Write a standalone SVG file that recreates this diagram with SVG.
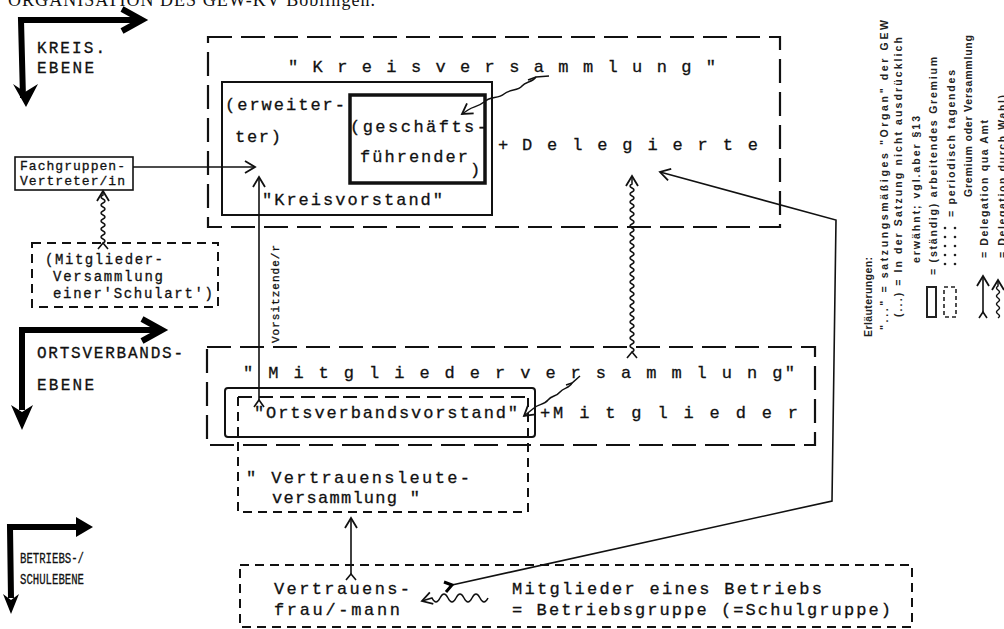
<svg xmlns="http://www.w3.org/2000/svg" width="1004" height="629" viewBox="0 0 1004 629">
<defs>
<style>
.tw{font-family:"Liberation Mono","DejaVu Sans Mono",monospace;font-size:17px;fill:#111;stroke:#111;stroke-width:0.3}
.m15{font-size:15px}
.m14{font-size:14px}
.m13{font-size:13px}
.m11{font-size:11px}
.lv{font-family:"Liberation Mono","DejaVu Sans Mono",monospace;font-size:16px;fill:#111;stroke:#111;stroke-width:0.3}
.lg{font-family:"Liberation Sans","DejaVu Sans",sans-serif;font-size:10.5px;font-weight:bold;fill:#222}
.box{fill:none;stroke:#111;stroke-width:2}
.thick{fill:none;stroke:#111;stroke-width:3.5}
.dl{fill:none;stroke:#111;stroke-width:2.2;stroke-dasharray:24 9}
.dm{fill:none;stroke:#111;stroke-width:2.2;stroke-dasharray:14 7}
.ds{fill:none;stroke:#111;stroke-width:2;stroke-dasharray:9 6}
.ln{fill:none;stroke:#111;stroke-width:1.6}
.wv{fill:none;stroke:#111;stroke-width:1.5}
.big{fill:none;stroke:#000;stroke-width:6;stroke-linejoin:miter}
</style>
<marker id="ah" markerUnits="userSpaceOnUse" markerWidth="14" markerHeight="14" viewBox="0 0 14 14" refX="12" refY="7" orient="auto"><path d="M2,1 L12,7 L2,13" fill="none" stroke="#111" stroke-width="1.8"/></marker>
</defs>
<rect width="1004" height="629" fill="#fff"/>

<text x="8" y="6" font-family="Liberation Serif, serif" font-size="18" fill="#111" textLength="367">ORGANISATION DES GEW-KV Böblingen.</text>

<g id="levels">
<path class="big" d="M23,98 L21,20 L140,20"/>
<polyline class="big" points="122,9 142,20 122,31"/>
<polygon points="13,84 25,92 38,84 26,107" fill="#000"/>
<text class="lv" x="37" y="53" textLength="68">KREIS.</text>
<text class="lv" x="37" y="73" textLength="57">EBENE</text>

<path class="big" d="M22,410 L22,330 L160,330"/>
<polyline class="big" points="142,319 162,330 142,341"/>
<polygon points="11,405 22,412 33,405 22,430" fill="#000"/>
<text class="lv" x="37" y="358" textLength="146">ORTSVERBANDS-</text>
<text class="lv" x="37" y="390" textLength="57">EBENE</text>

<path class="big" d="M11,598 L10,527 L80,527"/>
<polygon points="76,517 93,527 76,537" fill="#000"/>
<polygon points="3,594 11,600 19,594 11,614" fill="#000"/>
<text class="tw m15" x="20" y="563" textLength="64" lengthAdjust="spacingAndGlyphs">BETRIEBS-/</text>
<text class="tw m15" x="20" y="584" textLength="64" lengthAdjust="spacingAndGlyphs">SCHULEBENE</text>
</g>

<g id="kreisversammlung">
<rect class="dl" x="208" y="37" width="572" height="190"/>
<text class="tw" x="288" y="72" textLength="428">" K r e i s v e r s a m m l u n g "</text>
<text class="tw" x="498" y="150">+</text>
<text class="tw" x="522" y="150" textLength="236">D e l e g i e r t e</text>
</g>

<g id="kreisvorstand">
<rect class="box" x="222" y="82" width="270" height="133"/>
<text class="tw" x="225" y="110" textLength="120">(erweiter-</text>
<text class="tw" x="235" y="142" textLength="46">ter)</text>
<text class="tw" x="262" y="205" textLength="181">"Kreisvorstand"</text>
</g>

<g id="geschaeftsfuehrender">
<rect class="thick" x="350" y="95" width="135" height="88"/>
<text class="tw" x="350" y="132" textLength="137">(geschäfts-</text>
<text class="tw" x="360" y="162" textLength="108">führender</text>
<text class="tw" x="470" y="175">)</text>
</g>

<g id="fachgruppen">
<rect class="ln" x="15" y="157" width="118" height="33"/>
<text class="tw m13" x="20" y="170" textLength="105">Fachgruppen-</text>
<text class="tw m13" x="20" y="185" textLength="105">Vertreter/in</text>
</g>

<g id="schulart">
<rect class="ds" x="32" y="243" width="186" height="64"/>
<text class="tw m14" x="45" y="264" textLength="118">(Mitglieder-</text>
<text class="tw m14" x="53" y="281" textLength="110">Versammlung</text>
<text class="tw m14" x="53" y="298" textLength="160">einer'Schulart')</text>
</g>

<g id="mitgliederversammlung">
<rect class="dl" x="207" y="347" width="608" height="98"/>
<text class="tw" x="243" y="378" textLength="552">" M i t g l i e d e r v e r s a m m l u n g"</text>
<text class="tw" x="540" y="418" textLength="258">+M i t g l i e d e r</text>
</g>

<g id="ortsverbandsvorstand">
<rect class="box" x="225" y="388" width="310" height="49" rx="3"/>
<text class="tw" x="254" y="418" textLength="264">"Ortsverbandsvorstand"</text>
</g>

<g id="vertrauensleute">
<path class="dm" d="M238,397 L528,397"/>
<path class="ds" d="M238,397 L238,512 L528,512 L528,397"/>
<text class="tw" x="246" y="483" textLength="224">" Vertrauensleute-</text>
<text class="tw" x="272" y="503" textLength="148">versammlung "</text>
</g>

<g id="betriebsgruppe">
<rect class="ds" x="240" y="565" width="672" height="62"/>
<text class="tw" x="274" y="594" textLength="136">Vertrauens-</text>
<text class="tw" x="274" y="615" textLength="126">frau/-mann</text>
<text class="tw" x="512" y="594" textLength="310">Mitglieder eines Betriebs</text>
<text class="tw" x="512" y="615" textLength="379">= Betriebsgruppe (=Schulgruppe)</text>
</g>

<g id="connectors">
<path class="ln" d="M133,167 L255,167" marker-end="url(#ah)"/>
<path class="ln" d="M259,400 L259,177" marker-end="url(#ah)"/>
<polyline class="ln" points="254,407 259,400 264,407"/>
<text class="tw m11" transform="translate(279,343) rotate(-90)" textLength="98">Vorsitzende/r</text>

<path class="wv" d="M103,243 q4,-2 0,-4 q-4,-2 0,-4 q4,-2 0,-4 q-4,-2 0,-4 q4,-2 0,-4 q-4,-2 0,-4 q4,-2 0,-4 q-4,-2 0,-4 q4,-2 0,-4 q-4,-2 0,-4 q4,-2 0,-4 q-4,-2 0,-4 l0,-4" marker-end="url(#ah)"/>
<polyline class="ln" points="98,249 103,243 108,249"/>

<path class="wv" d="M536,77 c-4,6 -10,4 -14,9 c-4,5 -12,3 -18,8 c-6,5 -14,2 -20,8 c-6,5 -10,4 -16,8 l-6,4" marker-end="url(#ah)"/>
<path class="wv" d="M528,80 L536,77 L549,76"/>

<path class="wv" d="M632,352 q4,-2 0,-4 q-4,-2 0,-4 q4,-2 0,-4 q-4,-2 0,-4 q4,-2 0,-4 q-4,-2 0,-4 q4,-2 0,-4 q-4,-2 0,-4 q4,-2 0,-4 q-4,-2 0,-4 q4,-2 0,-4 q-4,-2 0,-4 q4,-2 0,-4 q-4,-2 0,-4 q4,-2 0,-4 q-4,-2 0,-4 q4,-2 0,-4 q-4,-2 0,-4 q4,-2 0,-4 q-4,-2 0,-4 q4,-2 0,-4 q-4,-2 0,-4 q4,-2 0,-4 q-4,-2 0,-4 q4,-2 0,-4 q-4,-2 0,-4 q4,-2 0,-4 q-4,-2 0,-4 q4,-2 0,-4 q-4,-2 0,-4 q4,-2 0,-4 q-4,-2 0,-4 q4,-2 0,-4 q-4,-2 0,-4 q4,-2 0,-4 q-4,-2 0,-4 q4,-2 0,-4 q-4,-2 0,-4 q4,-2 0,-4 q-4,-2 0,-4 q4,-2 0,-4 q-4,-2 0,-4 l0,-8" marker-end="url(#ah)"/>
<polyline class="ln" points="627,358 632,352 637,358"/>

<path class="wv" d="M572,383 c-3,6 -8,4 -12,9 c-4,5 -8,3 -12,8 c-4,5 -10,4 -14,8 l-10,8" marker-end="url(#ah)"/>
<path class="wv" d="M566,385 L572,383 L580,376"/>

<path class="ln" d="M452,585 L832,501 L836,220 L660,172" marker-end="url(#ah)" stroke-width="2"/>
<polyline fill="none" stroke="#000" stroke-width="3" points="444,582 452,585 446,592"/>

<path class="ln" d="M351,574 L351,518" marker-end="url(#ah)"/>
<polyline class="ln" points="346,580 351,574 356,580"/>

<path class="wv" d="M488,598 q-4,8 -8,0 q-4,-8 -8,0 q-4,8 -8,0 q-4,-8 -8,0 q-4,8 -8,0 q-4,-8 -8,0 q-4,8 -8,0 l-10,3" marker-end="url(#ah)"/>
</g>

<g id="legend">
<text class="lg" transform="translate(872,337) rotate(-90)" textLength="80">Erläuterungen:</text>
<text class="lg" transform="translate(888,330) rotate(-90)" textLength="310">"..." = satzungsmäßiges "Organ" der GEW</text>
<text class="lg" transform="translate(902,317) rotate(-90)" textLength="280">(...) = In der Satzung nicht ausdrücklich</text>
<text class="lg" transform="translate(920,263) rotate(-90)" textLength="147">erwähnt; vgl.aber §13</text>
<rect x="927" y="287" width="9" height="30" fill="none" stroke="#222" stroke-width="2"/>
<text class="lg" transform="translate(937,275) rotate(-90)" textLength="218">= (ständig) arbeitendes Gremium</text>
<rect x="944" y="287" width="12" height="30" fill="none" stroke="#222" stroke-width="1.6" stroke-dasharray="4 3"/>
<g fill="#222">
<circle cx="945" cy="228" r="1.3"/><circle cx="945" cy="237" r="1.3"/><circle cx="945" cy="246" r="1.3"/><circle cx="945" cy="255" r="1.3"/><circle cx="945" cy="264" r="1.3"/>
<circle cx="955" cy="228" r="1.3"/><circle cx="955" cy="237" r="1.3"/><circle cx="955" cy="246" r="1.3"/><circle cx="955" cy="255" r="1.3"/><circle cx="955" cy="264" r="1.3"/>
</g>
<text class="lg" transform="translate(955,217) rotate(-90)" textLength="147">= periodisch tagendes</text>
<text class="lg" transform="translate(972,197) rotate(-90)" textLength="162">Gremium oder Versammlung</text>
<path class="ln" d="M983,312 L983,276" marker-end="url(#ah)"/>
<polyline class="ln" points="979,318 983,312 987,318"/>
<text class="lg" transform="translate(988,258) rotate(-90)" textLength="138">= Delegation qua Amt</text>
<path class="wv" d="M998,318 q3,-2 0,-4 q-3,-2 0,-4 q3,-2 0,-4 q-3,-2 0,-4 q3,-2 0,-4 q-3,-2 0,-4 q3,-2 0,-4 q-3,-2 0,-4 l0,-6" marker-end="url(#ah)"/>
<text class="lg" transform="translate(1006,258) rotate(-90)" textLength="163">= Delegation durch Wahl)</text>
</g>
</svg>
